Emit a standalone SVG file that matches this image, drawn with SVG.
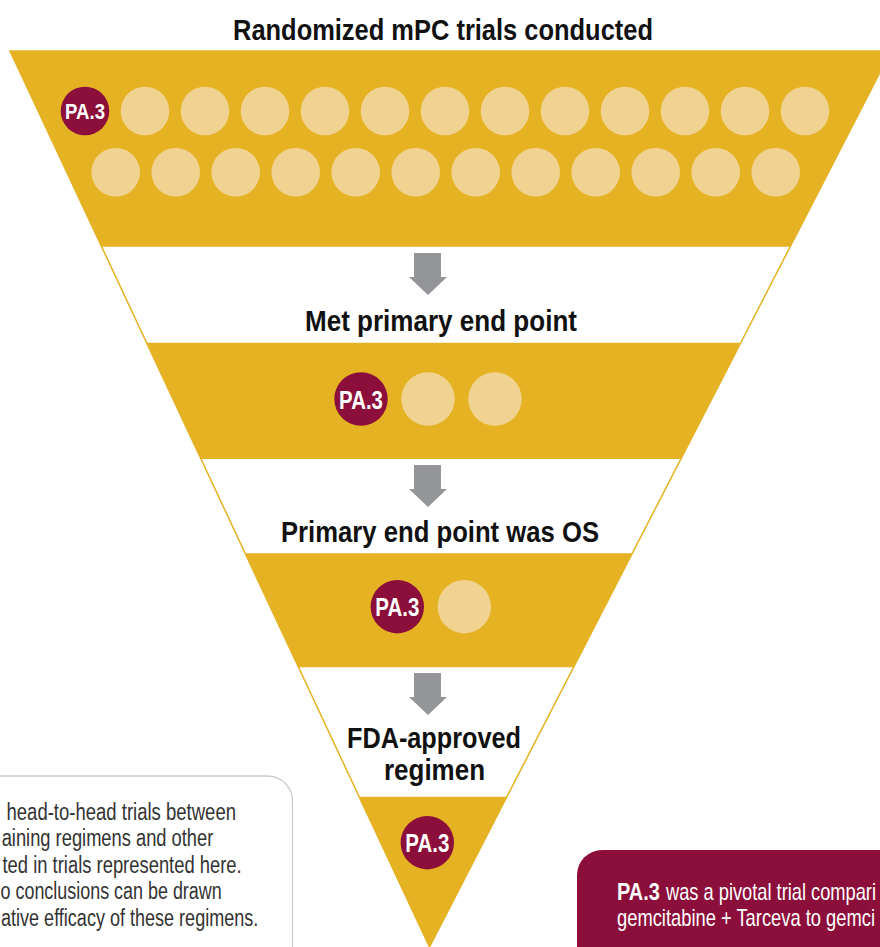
<svg xmlns="http://www.w3.org/2000/svg" xmlns:xlink="http://www.w3.org/1999/xlink" width="880" height="947" viewBox="0 0 880 947">
<style>
.band{fill:#E5B223}
.lt{fill:#F1D391}
.pa{fill:#8C0E3B}
.pat{font-family:"Liberation Sans",Arial,sans-serif;font-weight:bold;fill:#fff;text-anchor:middle}
.hd{font-family:"Liberation Sans",Arial,sans-serif;font-weight:bold;fill:#111;text-anchor:middle;font-size:29px}
.nt{font-family:"Liberation Sans",Arial,sans-serif;fill:#333;font-size:23px}
.wt{font-family:"Liberation Sans",Arial,sans-serif;fill:#fff;font-size:24px}
.arr{fill:#939598}
</style>
<defs>
<path id="arrow" class="arr" d="M414,253 H441 V277 H447 L428,295 L409,277 H414 Z"/>
</defs>
<rect width="880" height="947" fill="#fff"/>
<polygon points="10,51 891,51 429.5,947" fill="none" stroke="#E5B223" stroke-width="1.5"/>

<g id="stage1">
<polygon class="band" points="10,51 891,51 790.2,246.7 101.6,246.7"/>
<text class="hd" x="443" y="40" textLength="420" lengthAdjust="spacingAndGlyphs" font-size="30">Randomized mPC trials conducted</text>
<circle class="pa" cx="85" cy="111" r="24.3"/>
<text class="pat" x="85" y="119" font-size="22" textLength="40" lengthAdjust="spacingAndGlyphs">PA.3</text>
<g class="lt">
<circle cx="145" cy="111" r="24.3"/><circle cx="205" cy="111" r="24.3"/><circle cx="265" cy="111" r="24.3"/><circle cx="325" cy="111" r="24.3"/><circle cx="385" cy="111" r="24.3"/><circle cx="445" cy="111" r="24.3"/><circle cx="505" cy="111" r="24.3"/><circle cx="565" cy="111" r="24.3"/><circle cx="625" cy="111" r="24.3"/><circle cx="685" cy="111" r="24.3"/><circle cx="745" cy="111" r="24.3"/><circle cx="805" cy="111" r="24.3"/>
<circle cx="115.7" cy="172.3" r="24.3"/><circle cx="175.7" cy="172.3" r="24.3"/><circle cx="235.7" cy="172.3" r="24.3"/><circle cx="295.7" cy="172.3" r="24.3"/><circle cx="355.7" cy="172.3" r="24.3"/><circle cx="415.7" cy="172.3" r="24.3"/><circle cx="475.7" cy="172.3" r="24.3"/><circle cx="535.7" cy="172.3" r="24.3"/><circle cx="595.7" cy="172.3" r="24.3"/><circle cx="655.7" cy="172.3" r="24.3"/><circle cx="715.7" cy="172.3" r="24.3"/><circle cx="775.7" cy="172.3" r="24.3"/>
</g>
</g>

<g id="stage2">
<text class="hd" x="441" y="331" textLength="272" lengthAdjust="spacingAndGlyphs">Met primary end point</text>
<polygon class="band" points="146.5,342.7 740.8,342.7 680.9,459 200.9,459"/>
<circle class="pa" cx="361" cy="399" r="26.7"/>
<text class="pat" x="361" y="408.5" font-size="25" textLength="44" lengthAdjust="spacingAndGlyphs">PA.3</text>
<circle class="lt" cx="428" cy="399" r="26.7"/>
<circle class="lt" cx="495" cy="399" r="26.7"/>
</g>

<g id="stage3">
<text class="hd" x="440" y="542" textLength="318" lengthAdjust="spacingAndGlyphs">Primary end point was OS</text>
<polygon class="band" points="245.1,553.3 632.3,553.3 573.6,667.3 298.4,667.3"/>
<circle class="pa" cx="397.3" cy="606.7" r="26.7"/>
<text class="pat" x="397.3" y="616" font-size="25" textLength="44" lengthAdjust="spacingAndGlyphs">PA.3</text>
<circle class="lt" cx="464.3" cy="606.7" r="26.7"/>
</g>

<g id="stage4">
<text class="hd" x="434" y="748" textLength="174" lengthAdjust="spacingAndGlyphs">FDA-approved</text>
<text class="hd" x="434.5" y="780" textLength="101" lengthAdjust="spacingAndGlyphs">regimen</text>
<polygon class="band" points="359,796.7 507,796.7 429.5,947"/>
<circle class="pa" cx="427.3" cy="842.7" r="26.7"/>
<text class="pat" x="427.3" y="851.7" font-size="25" textLength="44" lengthAdjust="spacingAndGlyphs">PA.3</text>
</g>

<g id="connectors">
<use xlink:href="#arrow"/>
<use xlink:href="#arrow" transform="translate(0,212)"/>
<use xlink:href="#arrow" transform="translate(0,420)"/>
</g>

<g id="note">
<rect x="-40" y="776" width="332.5" height="220" rx="25" ry="25" fill="#fff" stroke="#cccccc" stroke-width="1.3"/>
<text class="nt" x="6.5" y="819.5" textLength="229.5" lengthAdjust="spacingAndGlyphs">head-to-head trials between</text>
<text class="nt" x="1.7" y="846" textLength="211.6" lengthAdjust="spacingAndGlyphs">aining regimens and other</text>
<text class="nt" x="2.5" y="872.5" textLength="239.2" lengthAdjust="spacingAndGlyphs">ted in trials represented here.</text>
<text class="nt" x="0.5" y="899" textLength="221.2" lengthAdjust="spacingAndGlyphs">o conclusions can be drawn</text>
<text class="nt" x="1" y="925.5" textLength="257.3" lengthAdjust="spacingAndGlyphs">ative efficacy of these regimens.</text>
</g>

<g id="callout">
<rect x="577" y="850" width="360" height="150" rx="25" ry="25" class="pa"/>
<text class="wt" x="617" y="899.5" font-weight="bold" textLength="43" lengthAdjust="spacingAndGlyphs">PA.3</text>
<text class="wt" x="666" y="899.5" textLength="210" lengthAdjust="spacingAndGlyphs">was a pivotal trial compari</text>
<text class="wt" x="617" y="925.5" textLength="258" lengthAdjust="spacingAndGlyphs">gemcitabine + Tarceva to gemci</text>
</g>
</svg>
